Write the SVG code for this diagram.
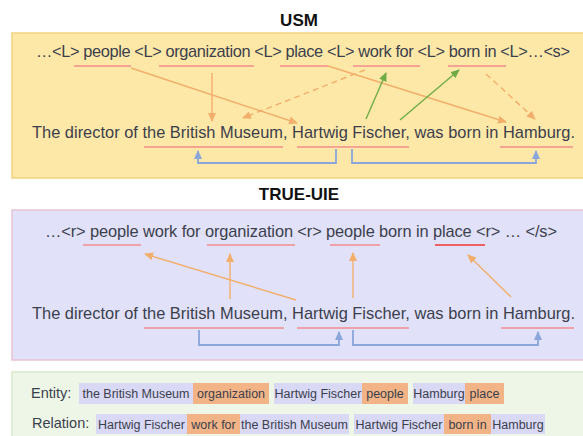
<svg xmlns="http://www.w3.org/2000/svg" width="583" height="436" viewBox="0 0 583 436">
<style>
.t{font-family:"Liberation Sans",Arial,sans-serif;fill:#3B3F4C}
.main{font-size:16.4px}
.title{font-family:"Liberation Sans",Arial,sans-serif;font-size:17px;font-weight:bold;fill:#111}
.ul{stroke:#F28C8C;stroke-width:1.6;fill:none}
.or{stroke:#F2AE6B;stroke-width:1.4;fill:none}
.ord{stroke:#F2AE6B;stroke-width:1.4;fill:none;stroke-dasharray:6 4}
.gr{stroke:#6FAC46;stroke-width:1.4;fill:none}
.bl{stroke:#8AA6DA;stroke-width:1.8;fill:none}
.lab{font-size:14.5px}
.tag{font-size:12.5px;text-anchor:middle}
.lv{fill:#D9D9F6}
.og{fill:#F2B486}
</style>
<defs>
<marker id="ao" markerUnits="userSpaceOnUse" markerWidth="9" markerHeight="8" refX="8" refY="4" orient="auto"><path d="M0,0 L9,4 L0,8 z" fill="#F2AE6B"/></marker>
<marker id="ag" markerUnits="userSpaceOnUse" markerWidth="9" markerHeight="8" refX="8" refY="4" orient="auto"><path d="M0,0 L9,4 L0,8 z" fill="#6FAC46"/></marker>
<marker id="ab" markerUnits="userSpaceOnUse" markerWidth="9" markerHeight="8" refX="8" refY="4" orient="auto"><path d="M0,0 L9,4 L0,8 z" fill="#8AA6DA"/></marker>
</defs>

<g id="usm">
<rect x="12" y="33" width="580" height="145" fill="#FEE8A8" stroke="#F3D27E" stroke-width="1.5"/>
<text class="title" x="299" y="26" text-anchor="middle">USM</text>
<text class="t main" x="36" y="57" textLength="534">…&lt;L&gt; people &lt;L&gt; organization &lt;L&gt; place &lt;L&gt; work for &lt;L&gt; born in &lt;L&gt;…&lt;s&gt;</text>
<text class="t main" x="32" y="138" textLength="543">The director of the British Museum, Hartwig Fischer, was born in Hamburg.</text>
<path class="ul" d="M74,66H131M159,66H254M280,66H328M353,66H420M448,66H506"/>
<path class="ul" d="M144,147H283M297,147H409M500,147H573"/>
</g>

<g id="trueuie">
<rect x="12" y="210" width="580" height="150" fill="#E1E1FA" stroke="#E6C3D3" stroke-width="1.5"/>
<text class="title" x="299" y="200" text-anchor="middle">TRUE-UIE</text>
<text class="t main" x="45" y="237" textLength="512">…&lt;r&gt; people work for organization &lt;r&gt; people born in place &lt;r&gt; … &lt;/s&gt;</text>
<text class="t main" x="32" y="319" textLength="543">The director of the British Museum, Hartwig Fischer, was born in Hamburg.</text>
<path class="ul" d="M83,245H141M207,245H295M330,245H380"/>
<path d="M435,245H485" stroke="#EE6262" stroke-width="1.8" fill="none"/>
<path class="ul" d="M144,328H284M297,328H409M501,328H574"/>
</g>

<g id="connectors">
<path class="bl" d="M336,149V163H198V151" marker-end="url(#ab)"/>
<path class="bl" d="M352,149V163H536V151" marker-end="url(#ab)"/>
<path class="or" d="M131,68L297,123" marker-end="url(#ao)"/>
<path class="or" d="M212,73L212,121" marker-end="url(#ao)"/>
<path class="or" d="M328,66L506,122" marker-end="url(#ao)"/>
<path class="ord" d="M365,70L243,118" marker-end="url(#ao)"/>
<path class="ord" d="M486,74L535,119" marker-end="url(#ao)"/>
<path class="gr" d="M366,119L386,73" marker-end="url(#ag)"/>
<path class="gr" d="M400,120L459,70" marker-end="url(#ag)"/>

<path class="bl" d="M199,330V345H339V332" marker-end="url(#ab)"/>
<path class="bl" d="M353,330V345H538V332" marker-end="url(#ab)"/>
<path class="or" d="M296,300L145,254" marker-end="url(#ao)"/>
<path class="or" d="M230,299L230,254" marker-end="url(#ao)"/>
<path class="or" d="M353,298L353,253" marker-end="url(#ao)"/>
<path class="or" d="M511,297L468,255" marker-end="url(#ao)"/>
</g>

<g id="legend">
<rect x="12" y="372" width="580" height="70" fill="#EEF6E8" stroke="#D6E7CA" stroke-width="1.5"/>
<text class="t lab" x="31" y="398">Entity:</text>
<text class="t lab" x="32" y="428">Relation:</text>
<rect class="lv" x="79" y="383" width="114" height="21"/>
<rect class="og" x="193" y="383" width="76" height="21"/>
<rect class="lv" x="274" y="383" width="88" height="21"/>
<rect class="og" x="362" y="383" width="46" height="21"/>
<rect class="lv" x="413" y="383" width="52" height="21"/>
<rect class="og" x="465" y="383" width="39" height="21"/>
<text class="t tag" x="136" y="398">the British Museum</text>
<text class="t tag" x="231" y="398">organization</text>
<text class="t tag" x="318" y="398">Hartwig Fischer</text>
<text class="t tag" x="385" y="398">people</text>
<text class="t tag" x="439" y="398">Hamburg</text>
<text class="t tag" x="484.5" y="398">place</text>

<rect class="lv" x="96" y="414" width="91" height="20"/>
<rect class="og" x="187" y="414" width="53" height="20"/>
<rect class="lv" x="240" y="414" width="109" height="20"/>
<rect class="lv" x="354" y="414" width="90" height="20"/>
<rect class="og" x="444" y="414" width="47" height="20"/>
<rect class="lv" x="491" y="414" width="54" height="20"/>
<text class="t tag" x="141.5" y="428.5">Hartwig Fischer</text>
<text class="t tag" x="213.5" y="428.5">work for</text>
<text class="t tag" x="294.5" y="428.5">the British Museum</text>
<text class="t tag" x="399" y="428.5">Hartwig Fischer</text>
<text class="t tag" x="467.5" y="428.5">born in</text>
<text class="t tag" x="518" y="428.5">Hamburg</text>
</g>
</svg>
